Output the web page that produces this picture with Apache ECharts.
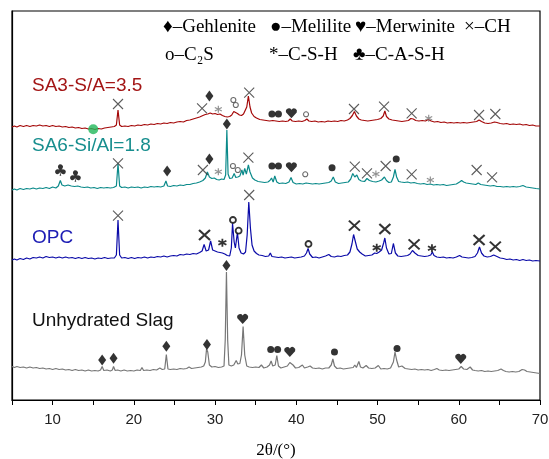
<!DOCTYPE html>
<html><head><meta charset="utf-8">
<script src="https://cdn.jsdelivr.net/npm/echarts/dist/echarts.min.js"></script>
<style>html,body{margin:0;padding:0;background:#fff}#c{width:549px;height:459px}</style>
</head><body><div id="c"></div>
<script>
// 2θ (deg) vs. intensity (a.u., stacked)
const sa3XRD = [[5,273],[5.3,274],[5.6,273],[6,274.5],[6.4,273.5],[6.8,274.5],[7.2,273.5],[7.6,274.5],[8,274],[8.4,275],[8.8,274],[9.2,274.5],[9.6,273.5],[10,274.5],[10.4,273.5],[10.8,274],[11.2,273],[11.6,273.5],[12,272.5],[12.4,273],[12.8,272],[13.2,272.5],[13.6,271.5],[14,272],[14.4,271],[14.8,271.5],[15.2,270.5],[15.6,271.5],[16,271],[16.4,272],[16.8,272.5],[17.2,273],[17.6,273.5],[17.85,275],[18.05,290],[18.25,275],[18.5,273.5],[18.9,274],[19.3,273.5],[19.7,274.5],[20.1,274],[20.5,275],[20.9,274.5],[21.3,275.5],[21.7,275],[22.1,276],[22.5,275.5],[22.9,276.5],[23.3,276],[23.7,277],[24.1,276.5],[24.5,277.5],[24.9,277],[25.3,278],[25.7,278.5],[26.1,278],[26.5,279.5],[26.9,280],[27.3,281],[27.7,282],[28.1,283],[28.5,284.5],[28.8,285.5],[29.1,286],[29.4,287],[29.7,286],[30,286.5],[30.3,285.5],[30.6,286],[30.9,284.5],[31.2,283.5],[31.5,283],[31.8,283.5],[32.05,285],[32.3,288.5],[32.5,287],[32.75,286.5],[33,285],[33.25,284.5],[33.5,286],[33.7,288],[33.9,293],[34.1,304],[34.3,293],[34.5,287],[34.8,283.5],[35.1,282],[35.5,280.5],[35.9,280],[36.3,279.5],[36.7,279],[37.1,279.5],[37.5,279],[37.9,278.5],[38.3,279],[38.7,278.5],[39,279],[39.25,281],[39.5,279],[39.9,278.5],[40.3,279],[40.7,278.5],[41.05,279.5],[41.3,281],[41.55,279],[41.9,278.5],[42.3,279],[42.7,278],[43.1,278.5],[43.5,278],[43.9,279],[44.3,278.5],[44.7,279],[45.1,278.5],[45.5,279.5],[45.9,279],[46.3,280],[46.6,281.5],[46.9,284.5],[47.15,288.5],[47.4,284],[47.7,281],[48,280],[48.4,279.5],[48.8,279],[49.2,279.5],[49.6,280],[50,280.5],[50.4,281.5],[50.7,284],[50.9,289],[51.1,283.5],[51.4,281],[51.8,280],[52.2,279.5],[52.6,279],[53,278.5],[53.4,279],[53.8,279.5],[54.1,281.5],[54.4,281],[54.7,279.5],[55.1,279],[55.5,279.5],[55.9,279],[56.25,280.5],[56.6,279],[57,278],[57.4,278.5],[57.8,277.5],[58.2,278],[58.6,277],[59,277.5],[59.4,277],[59.8,277.5],[60.2,277],[60.6,277.5],[61,277],[61.4,277.5],[61.8,278],[62.2,278.5],[62.5,280],[62.8,278.5],[63.2,277],[63.6,276.5],[64,277],[64.4,278],[64.7,277.5],[65.1,276.5],[65.5,276],[65.9,276.5],[66.3,275.5],[66.7,276],[67.1,275.5],[67.5,276],[67.9,275],[68.3,275.5],[68.7,274.5],[69.1,275],[69.5,274],[70,274]];

const sa6XRD = [[5,210],[5.3,211],[5.6,210],[6,211.5],[6.4,210.5],[6.8,211.5],[7.2,211],[7.6,212],[8,211],[8.4,212],[8.8,211.5],[9.2,212.5],[9.6,211.5],[10,213],[10.4,212],[10.7,214],[10.95,219.5],[11.15,215],[11.5,214],[11.9,215],[12.3,214],[12.7,213.5],[13.1,214],[13.5,213],[13.9,212.5],[14.3,213],[14.7,212],[15.1,212.5],[15.5,211.5],[15.9,212.5],[16.3,212],[16.7,212.5],[17.1,212],[17.5,212.5],[17.85,214],[18.05,236.5],[18.25,214],[18.5,212.5],[18.9,213],[19.3,212],[19.7,213],[20.1,212.5],[20.5,213],[20.9,212],[21.3,213],[21.7,212.5],[22.1,213.5],[22.5,213],[22.9,213.5],[23.3,213],[23.7,214],[23.95,219],[24.15,214],[24.5,213.5],[24.9,214.5],[25.3,214],[25.7,215],[26.1,214.5],[26.5,215.5],[26.9,215.5],[27.3,216.5],[27.7,217],[28.1,218],[28.5,219.5],[28.8,222],[29.05,228],[29.3,223],[29.6,221.5],[29.9,222],[30.2,220.5],[30.5,220],[30.8,221],[31.1,220.5],[31.3,225],[31.45,270],[31.6,226],[31.8,221.5],[32.1,222],[32.35,226.5],[32.55,222.5],[32.8,223],[33.05,224],[33.3,230],[33.45,225],[33.65,231.5],[33.85,226],[34.1,235],[34.3,228],[34.6,222],[34.9,220],[35.3,218.5],[35.7,218],[36.1,217.5],[36.5,218],[36.75,219.5],[36.95,222],[37.15,218],[37.35,224],[37.6,218],[37.9,216.5],[38.3,217],[38.7,216.5],[39.1,218],[39.35,222.5],[39.6,217.5],[40,216],[40.4,216.5],[40.8,216],[41.2,217],[41.6,216.5],[42,216],[42.4,216.5],[42.8,216],[43.2,216.5],[43.6,217],[44,217.5],[44.3,219],[44.55,223],[44.8,218],[45.2,216.5],[45.6,217],[46,217.5],[46.4,218],[46.7,221],[46.95,226.5],[47.2,223],[47.45,225],[47.7,220.5],[48,219],[48.4,218.5],[48.7,221.5],[49,219.5],[49.4,218.5],[49.8,218],[50.2,219],[50.5,220],[50.85,223],[51.1,219.5],[51.4,217.5],[51.7,218],[51.95,223],[52.15,230.5],[52.35,223],[52.6,218.5],[52.9,218],[53.3,217.5],[53.7,218],[54.1,217],[54.5,217.5],[54.9,216.5],[55.3,216],[55.7,216.5],[56.1,215.5],[56.5,216],[56.9,215],[57.3,215.5],[57.7,215],[58.1,215.5],[58.5,214.5],[58.9,215],[59.3,215.5],[59.7,216],[60.1,218],[60.35,219.5],[60.6,218],[60.9,217],[61.3,216.5],[61.7,216],[62.1,215.5],[62.4,217],[62.7,215.5],[63.1,215],[63.5,214.5],[63.9,214],[64.3,214.5],[64.7,213.5],[65.1,213.5],[65.5,213],[65.9,213.5],[66.3,213],[66.7,213.5],[67.1,213],[67.5,213.5],[67.9,214.5],[68.3,213],[68.7,212.5],[69.1,212],[69.5,211.5],[70,211]];

const opcXRD = [[5,140],[5.3,141],[5.6,140],[6,141.5],[6.4,140.5],[6.8,142],[7.2,141],[7.6,142.5],[8,142],[8.4,143],[8.8,142],[9.2,143.5],[9.6,142.5],[10,143],[10.4,142],[10.8,143],[11.2,142],[11.6,143],[12,142],[12.4,142.5],[12.8,141.5],[13.2,142.5],[13.6,141.5],[14,142.5],[14.4,141.5],[14.8,142],[15.2,141],[15.6,142],[16,141.5],[16.4,142.5],[16.8,141.5],[17.2,142],[17.6,142],[17.85,145],[18.05,180],[18.25,145],[18.5,142],[18.9,142.5],[19.3,141.5],[19.7,142.5],[20.1,141.5],[20.5,142.5],[20.9,142],[21.3,143],[21.7,142],[22.1,143],[22.5,142.5],[22.9,143.5],[23.3,143],[23.7,144],[24.1,143],[24.5,144],[24.9,144.5],[25.3,144],[25.7,145.5],[26.1,145],[26.5,146],[26.9,145.5],[27.3,146.5],[27.7,146],[28.1,147.5],[28.4,149],[28.65,155.5],[28.9,149],[29.2,150],[29.45,159],[29.7,150],[30,149],[30.3,148],[30.6,147.5],[30.9,147],[31.2,146],[31.5,144.5],[31.8,144],[32,152],[32.15,176.5],[32.35,158],[32.5,152],[32.75,167.5],[32.95,152],[33.2,147],[33.5,146],[33.75,148],[33.95,165],[34.15,198],[34.35,172],[34.55,155],[34.8,149],[35.1,146.5],[35.4,145],[35.8,144.5],[36.2,143.5],[36.6,144],[36.8,147],[37,143.5],[37.4,143],[37.8,142.5],[38.2,143],[38.6,142],[39,142.5],[39.4,143],[39.8,142],[40.2,142.5],[40.6,143],[41,144],[41.25,147],[41.45,151.5],[41.65,146],[42,142.5],[42.4,143],[42.8,142],[43.2,143],[43.6,144],[44,145.5],[44.3,143.5],[44.7,143],[45.1,144],[45.5,143.5],[45.9,144.5],[46.3,145],[46.6,148],[46.85,156],[47.05,165.5],[47.25,159],[47.5,151],[47.8,148],[48.1,146],[48.5,144],[48.9,144.5],[49.3,145],[49.65,147],[49.9,146.5],[50.2,148],[50.5,150],[50.75,157],[50.9,162],[51.1,152],[51.4,146],[51.7,146.5],[51.95,156.5],[52.2,147],[52.5,144],[52.9,143.5],[53.3,144],[53.7,144.5],[54,146],[54.3,149.5],[54.6,147],[55,144.5],[55.4,144],[55.8,143.5],[56.2,144],[56.55,145],[56.75,148],[56.95,144.5],[57.3,143],[57.7,142.5],[58.1,143],[58.5,142],[58.9,142.5],[59.3,142],[59.7,143],[60.1,144.5],[60.4,143],[60.8,142.5],[61.2,142],[61.6,142.5],[62,143.5],[62.3,147],[62.55,153],[62.8,147],[63.1,144],[63.5,143],[63.9,143.5],[64.3,145],[64.7,143.5],[65.1,142],[65.5,141.5],[65.9,140.5],[66.3,141],[66.7,140],[67.1,140.5],[67.5,139.5],[67.9,140.5],[68.3,139.5],[68.7,140],[69.1,139],[69.5,139.5],[70,139]];

const slagXRD = [[5,33.5],[5.3,32.5],[5.6,33.5],[6,32.5],[6.4,33],[6.8,32],[7.2,33],[7.6,32],[8,32.5],[8.4,31.5],[8.8,32],[9.2,31],[9.6,31.5],[10,30.5],[10.4,31.5],[10.8,30.5],[11.2,31],[11.6,30],[12,30.5],[12.4,29.5],[12.8,30.5],[13.2,29.5],[13.6,30],[14,29],[14.4,30],[14.8,29],[15.2,29.5],[15.6,29],[15.9,30],[16.1,33.5],[16.3,29.5],[16.7,30],[17.1,29],[17.35,30],[17.5,33.5],[17.7,29.5],[18,30],[18.4,29],[18.8,30],[19.2,29],[19.6,29.5],[20,29],[20.4,30],[20.8,29.5],[21,32.5],[21.2,29.5],[21.6,30],[22,29.5],[22.4,30.5],[22.8,30],[23.2,32],[23.5,30.5],[23.8,31],[24,45.5],[24.2,31],[24.5,30.5],[24.9,31],[25.3,30.5],[25.7,31.5],[26.1,31],[26.5,31.5],[26.8,33],[27.1,31.5],[27.5,32],[27.9,32.5],[28.3,33],[28.6,34],[28.8,38],[28.95,51],[29.1,48],[29.3,35],[29.6,33],[30,33.5],[30.4,32.5],[30.8,33],[31.1,34],[31.25,60],[31.4,128],[31.55,60],[31.7,35],[32,34],[32.3,35],[32.6,39.5],[32.8,36],[33.05,36.5],[33.25,45],[33.45,73.5],[33.65,45],[33.9,34],[34.2,33],[34.6,32.5],[35,33],[35.4,32.5],[35.7,35],[36,32],[36.4,33],[36.7,35],[36.9,39],[37.1,34],[37.4,35],[37.6,44.5],[37.8,34],[38.1,32],[38.5,33],[38.9,34],[39.2,37.5],[39.4,39.5],[39.6,35],[39.9,32],[40.3,32.5],[40.75,35],[41,32],[41.4,33],[41.7,34],[42,32],[42.4,31.5],[42.8,32],[43.2,31],[43.6,32],[44,32],[44.3,35],[44.5,41],[44.7,34],[45,31.5],[45.4,32],[45.8,31],[46.2,31.5],[46.6,32],[47,32.5],[47.2,35],[47.4,32.5],[47.7,38.5],[47.9,33],[48.2,32],[48.6,34.5],[48.9,32],[49.3,31.5],[49.7,32],[50.1,34.5],[50.4,31],[50.8,31.5],[51.2,31],[51.6,32],[51.95,38],[52.15,48],[52.35,40],[52.6,33],[53,34],[53.4,31.5],[53.8,31],[54.2,30.5],[54.6,31],[55,30],[55.4,30.5],[55.8,30],[56.2,30.5],[56.6,29.5],[57,30.5],[57.3,31.5],[57.6,30],[58,29.5],[58.4,30],[58.8,29.5],[59.2,30],[59.6,30.5],[60,31],[60.3,33.5],[60.6,31],[61,30.5],[61.4,33],[61.7,30],[62,29.5],[62.4,29],[62.8,29.5],[63.2,28.5],[63.6,29],[64,28.5],[64.4,29],[64.8,29.5],[65.2,31],[65.5,29.5],[65.8,28.5],[66.2,28],[66.6,28.5],[67,28],[67.4,28.5],[67.8,30.5],[68.1,30],[68.4,28.5],[68.8,28],[69.2,27.5],[69.6,27],[70,26.5]];

// phase markers [2θ, height]
const chMarks = [[18.05,296],[28.4,291.7],[34.2,307.3],[47.1,291],[50.8,293.3],[54.2,286.7],[62.5,285],[64.5,286],
  [18.05,236.7],[28.5,230],[34.1,242.3],[47.2,233.3],[48.7,226.7],[51.0,234],[54.2,225.7],[62.2,230],[64.1,222.7],
  [18.05,184.3],[34.2,205]];
const chBoldMarks = [[28.7,165],[47.15,174.3],[50.9,171],[54.5,155.7],[62.5,160],[64.5,153.3]];
const gehleniteMarks = [[29.3,304],[24.1,229],[29.3,241],[31.45,276],[16.1,40.1],[17.5,41.8],[24.0,53.8],[29.0,55.5],[31.4,134.5]];
const meliliteMarks = [[37.0,286],[37.8,286],[37.0,234],[37.8,234],[44.4,232.3],[52.3,241],[36.85,50.4],[37.7,50.4],[44.7,48],[52.4,51.4]];
const merwiniteMarks = [[39.4,286.7],[39.4,232.7],[33.4,81],[39.2,48],[60.25,41.1]];
const c2sMarks = [[32.25,300],[32.55,295],[41.2,285.7],[32.2,234],[32.8,230],[41.1,225.7]];
const c2sBoldMarks = [[32.2,180],[32.9,169.3],[41.5,156]];
const cshMarks = [[30.4,290.7],[56.3,281.7],[30.4,228.3],[49.8,226],[56.5,220]];
const cshBoldMarks = [[30.9,157.3],[49.9,152.3],[56.7,151.7]];
const cashMarks = [[10.95,228.3],[12.8,222.3]];
const greenPoint = [[15,270.7]];

const xTickLabels = [10,20,30,40,50,60,70];

const chart = echarts.init(document.getElementById('c'), null, {renderer:'canvas'});
const SANS = '"Liberation Sans", Arial, sans-serif';
const SERIF = '"Liberation Serif", "Times New Roman", serif';
const CROSS = 'path://M0,0L10,10M10,0L0,10';
const STAR = 'path://M5,0L5,10M0.67,2.5L9.33,7.5M0.67,7.5L9.33,2.5';
const HEART = 'path://M10,18L1.3,8.6A4.9,4.9 0 0 1 10,4.2A4.9,4.9 0 0 1 18.7,8.6Z';

function line(data, color){
  return {type:'line', data, showSymbol:false, symbol:'none', lineStyle:{width:1.2, color}, itemStyle:{color}, silent:true, z:2, animation:false};
}
function marks(data, symbol, size, style, extra){
  return Object.assign({type:'scatter', data, symbol, symbolSize:size, itemStyle:style, silent:true, z:5, animation:false}, extra||{});
}
const T = 'rgba(0,0,0,0)';
const hdr = (text, x, y) => ({type:'text', x, y, style:{text, fill:'#000', font:'19px '+SERIF, align:'left', verticalAlign:'middle'}});
const lbl = (text, x, y, color) => ({type:'text', x, y, style:{text, fill:color, font:'19px '+SANS, align:'left', verticalAlign:'middle'}});

chart.setOption({
  backgroundColor:'#fff',
  animation:false,
  grid:{left:12, right:9, top:11, bottom:59, show:true, borderColor:'#000', borderWidth:1.2, containLabel:false, outerBoundsMode:'none'},
  xAxis:{type:'value', min:5, max:70, interval:5,
    name:'2θ/(°)', nameLocation:'middle', nameGap:42,
    nameTextStyle:{fontFamily:SERIF, fontSize:17, color:'#000'},
    axisLine:{show:true, lineStyle:{color:'#000', width:1.2}},
    axisTick:{show:true, inside:false, length:5, lineStyle:{color:'#000', width:1}},
    axisLabel:{fontFamily:SANS, fontSize:15, color:'#222', margin:12,
      formatter:v => xTickLabels.includes(v) ? String(v) : ''},
    splitLine:{show:false}},
  yAxis:{type:'value', min:0, max:389, axisLine:{show:true, lineStyle:{color:'#000', width:1.2}},
    axisTick:{show:false}, axisLabel:{show:false}, splitLine:{show:false}},
  graphic:[
    hdr('♦–Gehlenite',163,27), hdr('●–Melilite',270,27), hdr('♥–Merwinite',355,27), hdr('×–CH',464,27),
    hdr('o–C₂S',165,55), hdr('*–C-S-H',269,55), hdr('♣–C-A-S-H',353,55),
    lbl('SA3-S/A=3.5',32,86,'#a31515'),
    lbl('SA6-Si/Al=1.8',32,146,'#178e8e'),
    lbl('OPC',32,238,'#1c1cb4'),
    lbl('Unhydrated Slag',32,321,'#111')
  ],
  series:[
    line(slagXRD,'#777777'),
    line(opcXRD,'#0a0aa8'),
    line(sa6XRD,'#0b8a8a'),
    line(sa3XRD,'#a40808'),
    marks(chMarks, CROSS, 10, {color:T, borderColor:'#333', borderWidth:1.1}),
    marks(chBoldMarks, CROSS, [11,10], {color:T, borderColor:'#000', borderWidth:2}),
    marks(gehleniteMarks, 'diamond', [8,11], {color:'#000'}),
    marks(meliliteMarks, 'circle', 7, {color:'#000'}),
    marks(merwiniteMarks, HEART, [11,10], {color:'#000'}),
    marks(c2sMarks, 'circle', 5, {color:'#fff', borderColor:'#444', borderWidth:1.1}),
    marks(c2sBoldMarks, 'circle', 6, {color:'#fff', borderColor:'#000', borderWidth:1.8}),
    marks(cshMarks, STAR, 7, {color:T, borderColor:'#777', borderWidth:1.2}),
    marks(cshBoldMarks, STAR, 8, {color:T, borderColor:'#000', borderWidth:1.8}),
    marks(cashMarks, 'circle', 1, {color:T}, {label:{show:true, position:'inside', formatter:'♣', fontSize:16, color:'#000', fontFamily:'"DejaVu Sans"'}}),
    marks(greenPoint, 'circle', 10, {color:'#21b85a'})
  ]
});
</script></body></html>
